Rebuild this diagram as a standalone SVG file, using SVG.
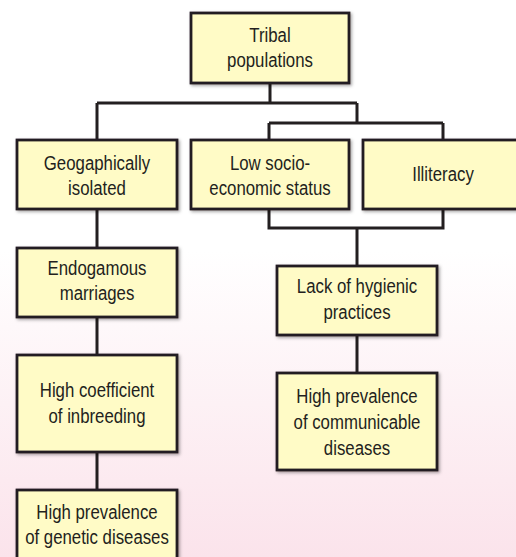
<svg xmlns="http://www.w3.org/2000/svg" width="516" height="557" viewBox="0 0 516 557">
<defs>
<linearGradient id="bg" x1="0" y1="0" x2="0" y2="1">
<stop offset="0" stop-color="#ffffff"/>
<stop offset="0.45" stop-color="#ffffff"/>
<stop offset="1" stop-color="#fbe3eb"/>
</linearGradient>
<filter id="sh" x="-10%" y="-10%" width="130%" height="130%">
<feDropShadow dx="1.5" dy="1.5" stdDeviation="1.5" flood-color="#000" flood-opacity="0.35"/>
</filter>
<style>
.box{fill:#fffbc6;stroke:#231f20;stroke-width:2.8;filter:url(#sh)}
.t{font-family:"Liberation Sans",Arial,sans-serif;font-size:21px;fill:#231f20;text-anchor:middle}
.c{fill:none;stroke:#231f20;stroke-width:3}
</style>
</defs>
<rect x="0" y="0" width="516" height="557" fill="url(#bg)"/>
<g id="connectors">
<path class="c" d="M270 83V103M97 103H357M97 103V140M357 103V123M269 123H443M269 123V140M443 123V140"/>
<path class="c" d="M269 209V228H443V209M357 228V266"/>
<path class="c" d="M97 209V248M97 317V355M97 452V490M357 335V373"/>
</g>
<g id="tribal"><rect class="box" x="191" y="13" width="158" height="70"/><g transform="translate(270 0) scale(0.8 1)"><text class="t" x="0" y="42">Tribal</text><text class="t" x="0" y="67">populations</text></g></g>
<g id="geo"><rect class="box" x="17" y="140" width="160" height="69"/><g transform="translate(97 0) scale(0.8 1)"><text class="t" x="0" y="170">Geogaphically</text><text class="t" x="0" y="195">isolated</text></g></g>
<g id="lowses"><rect class="box" x="191" y="140" width="158" height="69"/><g transform="translate(270 0) scale(0.8 1)"><text class="t" x="0" y="170">Low socio-</text><text class="t" x="0" y="195">economic status</text></g></g>
<g id="illiteracy"><rect class="box" x="363" y="140" width="160" height="69"/><g transform="translate(443 0) scale(0.8 1)"><text class="t" x="0" y="181">Illiteracy</text></g></g>
<g id="endogamous"><rect class="box" x="17" y="248" width="160" height="69"/><g transform="translate(97 0) scale(0.8 1)"><text class="t" x="0" y="275">Endogamous</text><text class="t" x="0" y="300">marriages</text></g></g>
<g id="inbreeding"><rect class="box" x="17" y="355" width="160" height="97"/><g transform="translate(97 0) scale(0.8 1)"><text class="t" x="0" y="397">High coefficient</text><text class="t" x="0" y="423">of inbreeding</text></g></g>
<g id="genetic"><rect class="box" x="17" y="490" width="160" height="80"/><g transform="translate(97 0) scale(0.8 1)"><text class="t" x="0" y="519">High prevalence</text><text class="t" x="0" y="544">of genetic diseases</text></g></g>
<g id="hygiene"><rect class="box" x="277" y="266" width="160" height="69"/><g transform="translate(357 0) scale(0.8 1)"><text class="t" x="0" y="293">Lack of hygienic</text><text class="t" x="0" y="319">practices</text></g></g>
<g id="communicable"><rect class="box" x="277" y="373" width="160" height="97"/><g transform="translate(357 0) scale(0.8 1)"><text class="t" x="0" y="403">High prevalence</text><text class="t" x="0" y="429">of communicable</text><text class="t" x="0" y="455">diseases</text></g></g>
</svg>
